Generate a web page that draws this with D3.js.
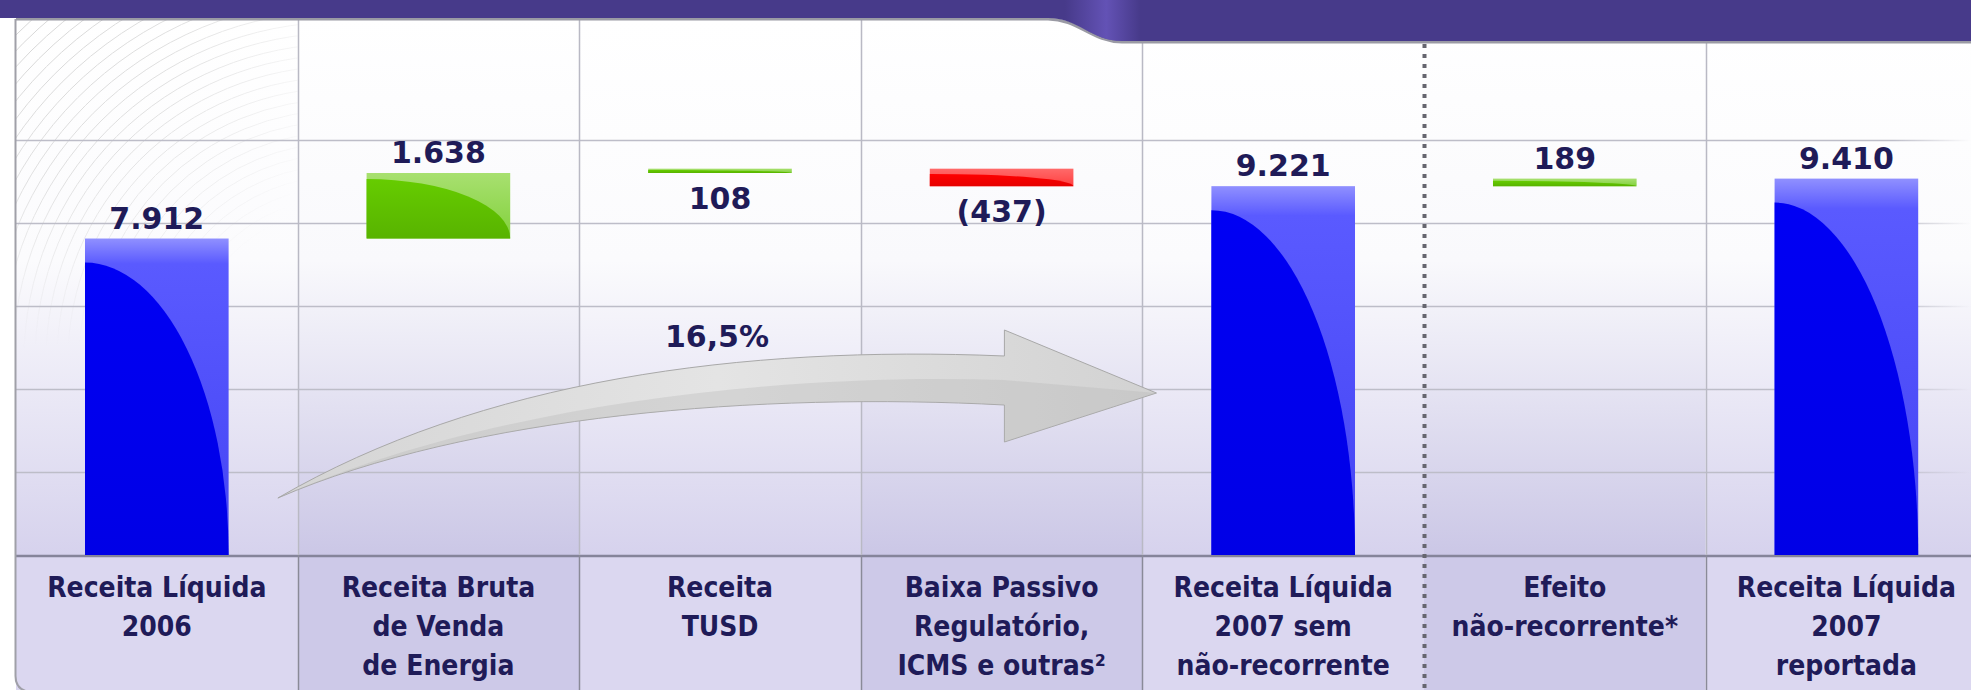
<!DOCTYPE html>
<html>
<head>
<meta charset="utf-8">
<script src="https://cdn.jsdelivr.net/npm/d3@7"></script>
<style>
html, body { margin: 0; padding: 0; background: #fff; overflow: hidden; }
svg { display: block; }
.val { font-family: "DejaVu Sans", Verdana, sans-serif; font-weight: bold; font-size: 30px; fill: #1f1b58; text-anchor: middle; }
.cat { font-family: "DejaVu Sans Condensed", "DejaVu Sans", sans-serif; font-stretch: condensed; font-weight: bold; font-size: 28px; fill: #1f1b58; text-anchor: middle; }
</style>
</head>
<body>
<div id="chart"></div>
<script>
// chart data (R$ milhões)
var categories = [
    ["Receita Líquida", "2006"],
    ["Receita Bruta", "de Venda", "de Energia"],
    ["Receita", "TUSD"],
    ["Baixa Passivo", "Regulatório,", "ICMS e outras²"],
    ["Receita Líquida", "2007 sem", "não-recorrente"],
    ["Efeito", "não-recorrente*"],
    ["Receita Líquida", "2007", "reportada"]
];
var values = [7912, 1638, 108, -437, 9221, 189, 9410];
var barTypes = ["total", "delta", "delta", "delta", "total", "delta", "total"];
var valueLabels = ["7.912", "1.638", "108", "(437)", "9.221", "189", "9.410"];
var labelSide = ["top", "top", "bottom", "bottom", "top", "top", "top"];
var gridValues = [2075, 4150, 6225, 8300, 10375];
var growthLabel = "16,5%";

var w = 1971, h = 690,
    plotTop = 19,
    baseline = 555,
    plotLeft = 16;

var svg = d3.select("#chart")
    .append("svg")
    .attr("width", w)
    .attr("height", h);

var defs = svg.append("defs");

// scales
var xScale = d3.scaleBand()
    .domain(d3.range(categories.length))
    .range([plotLeft, plotLeft + 281.6 * categories.length])
    .padding(0);
var bw = xScale.bandwidth();
var barW = bw * 0.51;

var yScale = d3.scaleLinear()
    .domain([0, 10000])
    .range([baseline, 155]);

// waterfall positions
var running = 0;
var bars = values.map(function(v, i) {
    var b;
    if (barTypes[i] == "total") {
        b = {lo: 0, hi: v, color: "blue"};
        running = v;
    } else {
        b = {lo: Math.min(running, running + v), hi: Math.max(running, running + v), color: v >= 0 ? "green" : "red"};
        running += v;
    }
    b.i = i;
    return b;
});

// gradients
function linGrad(id, stops, attrs) {
    var g = defs.append("linearGradient").attr("id", id);
    Object.keys(attrs || {}).forEach(function(k){ g.attr(k, attrs[k]); });
    stops.forEach(function(s) {
        g.append("stop").attr("offset", s[0]).attr("stop-color", s[1]).attr("stop-opacity", s[2] == null ? 1 : s[2]);
    });
}
var vert = {x1: 0, y1: 0, x2: 0, y2: 1};
var bgV = {gradientUnits: "userSpaceOnUse", x1: 0, y1: plotTop, x2: 0, y2: baseline};
linGrad("bgLight", [[0, "#ffffff"], [0.45, "#fbfbfd"], [1, "#d6d2ed"]], bgV);
linGrad("bgDark", [[0, "#ffffff"], [0.45, "#f9f9fc"], [1, "#cbc7e6"]], bgV);
linGrad("blueLight", [[0, "#9090ff"], [0.08, "#5a5aff"], [1, "#4444f4"]], vert);
linGrad("blueDark", [[0, "#0000f4"], [1, "#0000e6"]], vert);
linGrad("greenLight", [[0, "#a8e070"], [1, "#82d13c"]], vert);
linGrad("greenDark", [[0, "#66cc00"], [1, "#58b300"]], vert);
linGrad("redLight", [[0, "#ff6a6a"], [1, "#ff4040"]], vert);
linGrad("redDark", [[0, "#ff0000"], [1, "#e60000"]], vert);
linGrad("gridFade", [[0, "#bdbdc8"], [0.96, "#bdbdc8"], [1, "#bdbdc8", 0]],
    {gradientUnits: "userSpaceOnUse", x1: plotLeft, y1: 0, x2: w, y2: 0});
linGrad("arrowFill", [[0, "#d4d4d4"], [0.5, "#e4e4e4"], [1, "#d2d2d2"]], {x1: 0, y1: 0, x2: 1, y2: 0});
linGrad("bandGlow", [[0, "#6a58c0", 0], [0.55, "#6a58c0", 0.8], [1, "#6a58c0", 0]], {x1: 0, y1: 0, x2: 1, y2: 0});

// column backgrounds
svg.append("g").selectAll("rect")
    .data(d3.range(categories.length))
    .enter()
    .append("rect")
    .attr("x", function(d){ return xScale(d); })
    .attr("y", plotTop)
    .attr("width", bw)
    .attr("height", baseline - plotTop)
    .attr("fill", function(d){ return d % 2 ? "url(#bgDark)" : "url(#bgLight)"; });

// faint concentric arcs in the top-left corner
var fade = defs.append("radialGradient").attr("id", "hatchFade")
    .attr("gradientUnits", "userSpaceOnUse")
    .attr("cx", plotLeft).attr("cy", plotTop).attr("r", 330);
fade.append("stop").attr("offset", 0).attr("stop-color", "#fff");
fade.append("stop").attr("offset", 0.5).attr("stop-color", "#bbb");
fade.append("stop").attr("offset", 1).attr("stop-color", "#000");
defs.append("mask").attr("id", "hatchMask")
    .append("rect").attr("x", plotLeft).attr("y", plotTop).attr("width", bw).attr("height", 330)
    .attr("fill", "url(#hatchFade)");
var hatch = svg.append("g").attr("mask", "url(#hatchMask)");
d3.range(140, 480, 11).forEach(function(r) {
    hatch.append("circle")
        .attr("cx", 340).attr("cy", 360)
        .attr("r", r)
        .attr("fill", "none")
        .attr("stroke", "#d6d6d6")
        .attr("stroke-width", 1);
});

// gridlines
svg.append("g").selectAll("line")
    .data(gridValues)
    .enter()
    .append("line")
    .attr("x1", plotLeft)
    .attr("x2", w)
    .attr("y1", function(d){ return Math.round(yScale(d)) + 0.5; })
    .attr("y2", function(d){ return Math.round(yScale(d)) + 0.5; })
    .attr("stroke", "url(#gridFade)")
    .attr("stroke-width", 1.6);

// category band
svg.append("g").selectAll("rect")
    .data(d3.range(categories.length))
    .enter()
    .append("rect")
    .attr("x", function(d){ return xScale(d); })
    .attr("y", baseline)
    .attr("width", bw)
    .attr("height", h - baseline)
    .attr("fill", function(d){ return d % 2 ? "#cdc9e8" : "#dbd7f0"; });

svg.append("line")
    .attr("x1", plotLeft).attr("x2", w)
    .attr("y1", baseline + 1).attr("y2", baseline + 1)
    .attr("stroke", "#85849a").attr("stroke-width", 2.5);

// column dividers (the one before "Efeito" is dotted)
d3.range(1, categories.length).forEach(function(i) {
    var xx = Math.round(xScale(i)) + 0.5;
    if (i == 5) {
        svg.append("line")
            .attr("x1", xx).attr("x2", xx)
            .attr("y1", 44).attr("y2", h)
            .attr("stroke", "#66666f")
            .attr("stroke-width", 4)
            .attr("stroke-dasharray", "4,6");
    } else {
        svg.append("line")
            .attr("x1", xx).attr("x2", xx)
            .attr("y1", plotTop).attr("y2", baseline)
            .attr("stroke", "#b9b9c4").attr("stroke-width", 1.5);
        svg.append("line")
            .attr("x1", xx).attr("x2", xx)
            .attr("y1", baseline).attr("y2", h)
            .attr("stroke", "#8a8a98").attr("stroke-width", 1.5);
    }
});

// left frame with rounded corner
svg.append("path")
    .attr("d", "M" + (plotLeft - 0.5) + "," + plotTop + " V676 Q" + (plotLeft - 0.5) + ",690 30,692")
    .attr("fill", "none")
    .attr("stroke", "#a0a0a8")
    .attr("stroke-width", 2);

// bars
var barG = svg.append("g");
bars.forEach(function(b) {
    var x0 = xScale(b.i) + (bw - barW) / 2,
        x1 = x0 + barW,
        yt = yScale(b.hi),
        yb = yScale(b.lo),
        bh = yb - yt;
    var off = b.color == "blue" ? 24 : Math.min(6, bh * 0.3);
    barG.append("rect")
        .attr("x", x0).attr("y", yt)
        .attr("width", barW).attr("height", bh)
        .attr("fill", "url(#" + b.color + "Light)");
    barG.append("path")
        .attr("d", "M" + x0 + "," + yb + " L" + x0 + "," + (yt + off) +
            " A" + barW + "," + (bh - off) + " 0 0 1 " + x1 + "," + yb + " Z")
        .attr("fill", "url(#" + b.color + "Dark)");
    b.cx = x0 + barW / 2;
    b.yt = yt;
    b.yb = yb;
});

// growth arrow between the two net revenue bars
var ax = function(i, f){ return xScale(i) + bw * f; };
var tail = [ax(0, 0.93), yScale(1425)],
    tip = [ax(4, 0.05), yScale(4050)],
    hb = ax(3, 0.51);
var arrowPath = "M" + tail +
    " C" + [ax(1, 0.65), yScale(4375)] + " " + [ax(2, 0.58), yScale(5250)] + " " + [hb, yScale(4975)] +
    " L" + [hb, yScale(5625)] +
    " L" + tip +
    " L" + [hb, yScale(2825)] +
    " L" + [hb, yScale(3750)] +
    " C" + [ax(2, 0.65), yScale(4075)] + " " + [ax(1, 0.61), yScale(3500)] + " " + tail + " Z";
var lowerHalf = "M" + tail +
    " C" + [ax(1, 0.63), yScale(3625)] + " " + [ax(2, 0.65), yScale(4575)] + " " + [hb, yScale(4375)] +
    " L" + tip +
    " L" + [hb, yScale(2825)] +
    " L" + [hb, yScale(3750)] +
    " C" + [ax(2, 0.65), yScale(4075)] + " " + [ax(1, 0.61), yScale(3500)] + " " + tail + " Z";
svg.append("path")
    .attr("d", arrowPath)
    .attr("fill", "url(#arrowFill)")
    .attr("stroke", "#a8a8a8")
    .attr("stroke-width", 1);
svg.append("path")
    .attr("d", lowerHalf)
    .attr("fill", "#b8b8b8")
    .attr("fill-opacity", 0.35);

svg.append("text")
    .attr("class", "val")
    .attr("x", xScale(2) + bw / 2 - 3)
    .attr("y", yScale(5200))
    .text(growthLabel);

// value labels
svg.append("g").selectAll("text")
    .data(bars)
    .enter()
    .append("text")
    .attr("class", "val")
    .attr("x", function(d){ return d.cx; })
    .attr("y", function(d){ return labelSide[d.i] == "top" ? d.yt - 10 : d.yb + 36; })
    .text(function(d){ return valueLabels[d.i]; });

// category labels
var catG = svg.append("g").selectAll("text")
    .data(categories)
    .enter()
    .append("text")
    .attr("class", "cat")
    .attr("x", function(d, i){ return xScale(i) + bw / 2; })
    .attr("y", 597);
catG.selectAll("tspan")
    .data(function(d){ return d; })
    .enter()
    .append("tspan")
    .attr("x", function(){ return d3.select(this.parentNode).attr("x"); })
    .attr("dy", function(d, j){ return j == 0 ? 0 : 39; })
    .text(function(d){ return d; });

// top title band
var bandD = "M0,0 H" + w + " V41 H1122 C1092,41 1078,18 1048,18 H0 Z";
svg.append("path")
    .attr("d", "M" + plotLeft + ",19 H1048 C1078,19 1092,42 1122,42 H" + w)
    .attr("fill", "none")
    .attr("stroke", "#9a9aa4")
    .attr("stroke-width", 3);
svg.append("path")
    .attr("d", bandD)
    .attr("fill", "#473a8a");
defs.append("clipPath").attr("id", "bandClip").append("path").attr("d", bandD);
svg.append("rect")
    .attr("x", 1065).attr("y", 0)
    .attr("width", 75).attr("height", 42)
    .attr("fill", "url(#bandGlow)")
    .attr("clip-path", "url(#bandClip)");
</script>
</body>
</html>
